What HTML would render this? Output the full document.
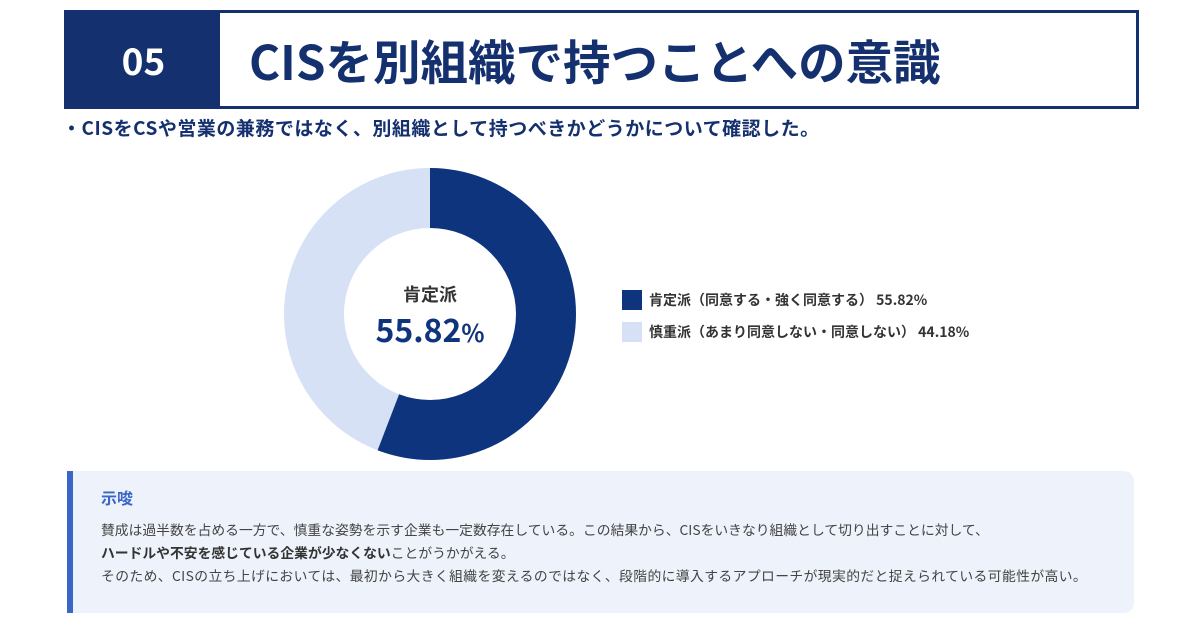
<!DOCTYPE html><html><head><meta charset="utf-8"><style>
body{margin:0;width:1200px;height:630px;background:#fff;font-family:"Noto Sans CJK JP","Liberation Sans",sans-serif;position:relative;overflow:hidden}
.hdr{position:absolute;left:64px;top:10px;width:1069px;height:93px;border:3px solid #14306f;background:#fff}
.num{position:absolute;left:0;top:0;width:153px;height:93px;background:#14306f;color:#fff;font-size:37px;font-weight:bold;line-height:93px;text-align:center}
.ttl{position:absolute;left:182px;top:0;line-height:93px;font-size:47.5px;font-weight:bold;color:#14306f;white-space:nowrap}
.sub{position:absolute;left:62px;top:114px;font-size:19px;letter-spacing:0.5px;font-weight:bold;color:#14306f;white-space:nowrap;line-height:28px}
.leg{position:absolute;left:622px;font-size:14px;font-weight:bold;color:#333;white-space:nowrap;line-height:20px}
.leg i{display:inline-block;width:20px;height:20px;vertical-align:top;margin-right:7px}
.box{position:absolute;left:67px;top:471px;width:1061px;height:142px;background:#eef3fb;border-left:6px solid #3a66c8;border-radius:0 10px 10px 0}
.box h3{margin:0;position:absolute;left:28px;top:14px;font-size:16px;color:#3a66c8;line-height:24px}
.box p{margin:0;position:absolute;left:28px;top:47px;font-size:13.8px;line-height:23px;color:#444;white-space:nowrap}
</style></head><body>
<div class="hdr"><div class="num">05</div><div class="ttl">CISを別組織で持つことへの意識</div></div>
<div class="sub">・CISをCSや営業の兼務ではなく、別組織として持つべきかどうかについて確認した。</div>
<svg style="position:absolute;left:0;top:0" width="1200" height="630">
<circle cx="430" cy="314" r="116" fill="none" stroke="#d6e1f6" stroke-width="60"/>
<circle cx="430" cy="314" r="116" fill="none" stroke="#0e347e" stroke-width="60" stroke-dasharray="406.86 1000" transform="rotate(-90 430 314)"/>
<text x="430" y="301" text-anchor="middle" font-size="18" font-weight="bold" fill="#333" font-family="Noto Sans CJK JP,Liberation Sans,sans-serif">肯定派</text>
<text x="430" y="342" text-anchor="middle" font-size="32" font-weight="bold" fill="#0e347e" font-family="Noto Sans CJK JP,Liberation Sans,sans-serif">55.82<tspan font-size="24">%</tspan></text>
</svg>
<div class="leg" style="top:290px"><i style="background:#0e347e"></i>肯定派（同意する・強く同意する） 55.82%</div>
<div class="leg" style="top:322px"><i style="background:#d6e1f6"></i>慎重派（あまり同意しない・同意しない） 44.18%</div>
<div class="box"><h3>示唆</h3><p>賛成は過半数を占める一方で、慎重な姿勢を示す企業も一定数存在している。この結果から、CISをいきなり組織として切り出すことに対して、<br><b style="color:#333">ハードルや不安を感じている企業が少なくない</b>ことがうかがえる。<br><span style="letter-spacing:0.4px">そのため、CISの立ち上げにおいては、最初から大きく組織を変えるのではなく、段階的に導入するアプローチが現実的だと捉えられている可能性が高い。</span></p></div>
</body></html>
